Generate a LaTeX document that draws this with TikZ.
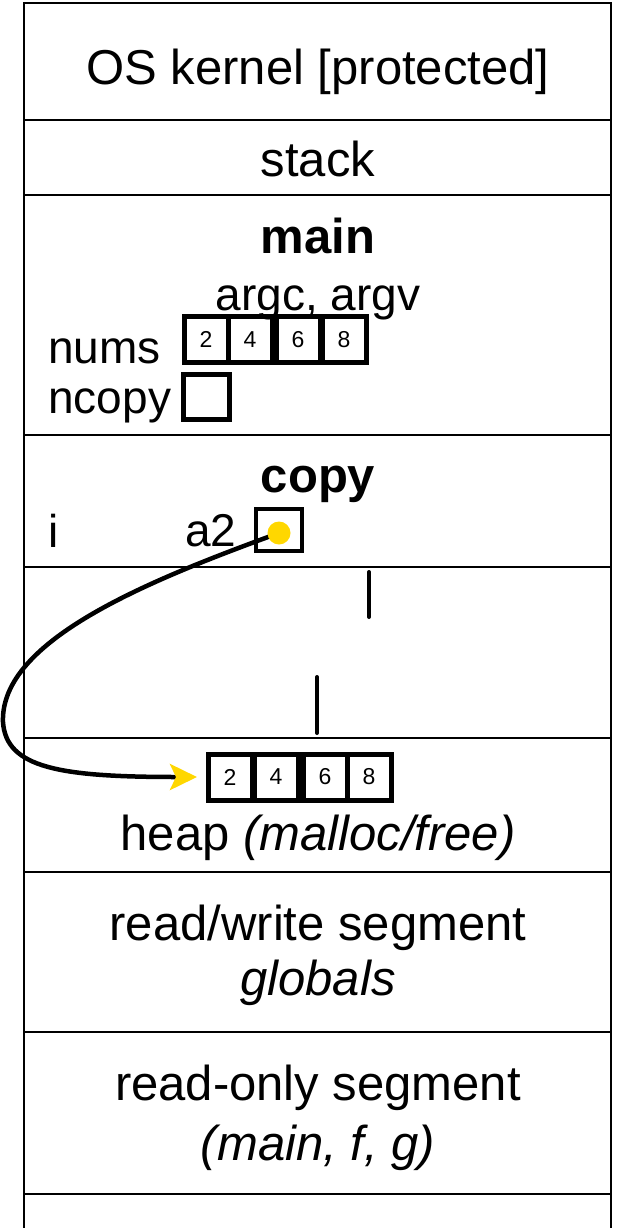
\documentclass[tikz,border=0pt]{standalone}
\usepackage{fontspec}
\setmainfont{Liberation Sans}
\usepackage[dvipsnames]{xcolor}
\usetikzlibrary{arrows.meta}
\definecolor{ptryellow}{RGB}{255,215,0}

\begin{document}
\begin{tikzpicture}[x=1pt,y=-1pt,node distance=46pt,thick,
    seg text/.style={anchor=base,inner sep=0pt,font=\fontsize{49}{55}\selectfont},
    var text/.style={anchor=base west,inner sep=0pt,font=\fontsize{46}{52}\selectfont},
    cell/.style={draw,line width=5pt,minimum width=44pt,minimum height=46pt,inner sep=0pt,font=\fontsize{23}{25}\selectfont}]
    \useasboundingbox (0,0) rectangle (618,1228);
    \draw[line width=2.2pt] (24,1228) -- (24,3) -- (611,3) -- (611,1228);
    \foreach \y in {120,195,435,567,738,872,1032,1194}
        \draw[line width=2.2pt] (24,\y) -- (611,\y);

    \node[seg text] (kernel) at (318,85) {OS kernel [protected]};
    \node[seg text] (stk) at (318,176) {stack};

    \node[seg text] (mainfn) at (318,253) {\bfseries main};
    \node[seg text,font=\fontsize{46}{52}\selectfont] (args) at (318,310) {argc, argv};
    \node[var text] (nums) at (48,363) {nums};
    \node[cell] (m1) at (206,339.5) {2};
    \node[cell] (m2) [right of = m1, xshift = -2] {4};
    \node[cell] (m3) [right of = m2, xshift = 2] {6};
    \node[cell] (m4) [right of = m3] {8};
    \node[var text] (ncopy) at (48,413) {ncopy};
    \node[cell, minimum width=46pt, minimum height=45pt] (nc) at (206.5,397) {};

    \node[seg text] (copyfn) at (318,492) {\bfseries copy};
    \node[var text] (i) at (48,547) {i};
    \node[var text] (a2) at (185,546) {a2};
    \node[cell, line width=4.5pt, minimum width=46pt, minimum height=42pt] (a2box) at (279,530) {};
    \coordinate (ptr) at (279,533);

    \draw[line width=4pt, line cap=round] (369,572) -- (369,617);
    \draw[line width=4pt, line cap=round] (317,677) -- (317,733);

    \node[cell] (h1) at (230,777) {2};
    \node[cell] (h2) [right of = h1] {4};
    \node[cell] (h3) [right of = h2, xshift = 3] {6};
    \node[cell] (h4) [right of = h3, xshift = -2] {8};
    \node[seg text] (heap) at (318,850) {heap \textit{(malloc/free)}};

    \draw[line width=4.5pt, shorten >=8.5pt, -{Stealth[length=27pt,width=26pt,inset=6pt,color=ptryellow]}]
        (ptr) .. controls (150,580) and (0,640) .. (3,722) .. controls (6,768) and (60,777) .. (h1.west);
    \node[circle, fill=ptryellow, minimum size=23pt, inner sep=0pt] (dot) at (ptr) {};

    \node[seg text] (rw) at (318,940) {read/write segment};
    \node[seg text] (glob) at (318,995) {\itshape globals};
    \node[seg text] (ro) at (318,1100) {read-only segment};
    \node[seg text] (rosub) at (318,1160) {\itshape (main, f, g)};
\end{tikzpicture}
\end{document}
